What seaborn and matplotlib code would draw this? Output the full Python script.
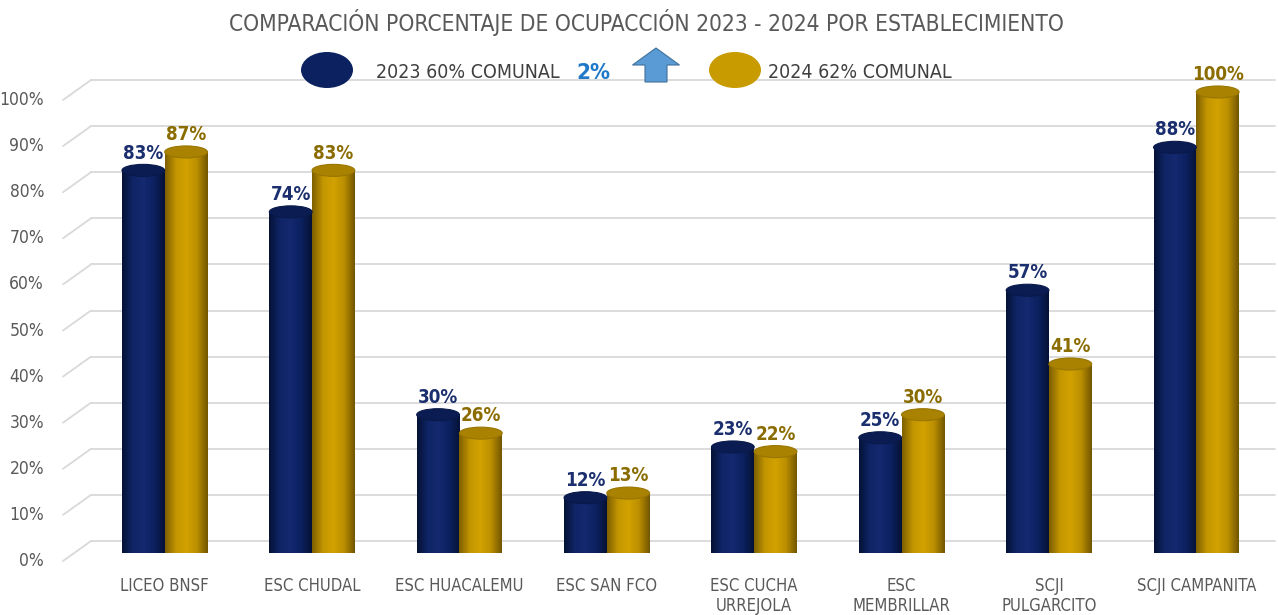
import numpy as np
import pandas as pd
import matplotlib
matplotlib.use("Agg")
import matplotlib.pyplot as plt
import seaborn as sns
from matplotlib.patches import Ellipse, FancyArrow
from matplotlib.colors import LinearSegmentedColormap, to_hex

# Data
establecimientos = ["LICEO BNSF", "ESC CHUDAL", "ESC HUACALEMU", "ESC SAN FCO",
                    "ESC CUCHA\nURREJOLA", "ESC\nMEMBRILLAR", "SCJI\nPULGARCITO",
                    "SCJI CAMPANITA"]
ocupacion_2023 = [83, 74, 30, 12, 23, 25, 57, 88]
ocupacion_2024 = [87, 83, 26, 13, 22, 30, 41, 100]
anios = ["2023", "2024"]
comunal = [60, 62]
variacion = "2%"
y_ticks = [0, 10, 20, 30, 40, 50, 60, 70, 80, 90, 100]

df = pd.DataFrame({
    "establecimiento": establecimientos * 2,
    "ocupacion": ocupacion_2023 + ocupacion_2024,
    "anio": [anios[0]] * len(establecimientos) + [anios[1]] * len(establecimientos),
})

NAVY = "#0c2260"
GOLD = "#c89b00"
NAVY_TXT = "#1b2f6e"
GOLD_TXT = "#8a6c00"
GRAY = "#595959"

cmaps = {
    to_hex(NAVY): LinearSegmentedColormap.from_list(
        "navy", ["#051236", "#0f2566", "#14296f", "#0c2160", "#051236"]),
    to_hex(GOLD): LinearSegmentedColormap.from_list(
        "gold", ["#7e5f00", "#c39600", "#d2a200", "#bb8f00", "#735600"]),
}
caps = {to_hex(NAVY): "#0a1c52", to_hex(GOLD): "#a88200"}
txt_colors = {to_hex(NAVY): NAVY_TXT, to_hex(GOLD): GOLD_TXT}

sns.set_style("white")
plt.rcParams["font.family"] = ["DejaVu Sans"]
plt.rcParams["font.stretch"] = "condensed"

W, H = 1278, 615
fig = plt.figure(figsize=(W / 100, H / 100), dpi=100)
ax = fig.add_axes([91 / W, 62 / H, (1270 - 91) / W, 461 * 1.1 / H])

sns.barplot(data=df, x="establecimiento", y="ocupacion", hue="anio",
            palette=[NAVY, GOLD], width=0.58, saturation=1, legend=False,
            ax=ax, zorder=3)
ax.set_xlim(-0.5, len(establecimientos) - 0.5)
ax.set_ylim(0, 110)
sns.despine(ax=ax, left=True, bottom=True)

px_x = 1 / 147.4   # data units per pixel (x)
px_y = 1 / 4.61    # data units per pixel (y)
cap_h = 12 * px_y

# 3D-ish gridlines with a diagonal on the left
for v in y_ticks:
    yb = v + 12 * px_y
    ax.plot([-0.5, len(establecimientos) - 0.5 + 5 * px_x], [yb, yb],
            color="#d9d9d9", lw=1.3, zorder=1, clip_on=False)
    ax.plot([-0.5, -0.5 - 28 * px_x], [yb, yb - 20 * px_y],
            color="#d9d9d9", lw=1.3, zorder=1, clip_on=False)
    ax.text(-0.5 - 47 * px_x, v - 8 * px_y, f"{v}%", ha="right", va="center",
            fontsize=12.5, color=GRAY)
ax.set_yticks([])
ax.set_ylabel("")
ax.set_xlabel("")

grad = np.linspace(0, 1, 64).reshape(1, -1)
for p in list(ax.patches):
    x0, w, h = p.get_x(), p.get_width(), p.get_height()
    key = to_hex(p.get_facecolor())
    cm = cmaps[key]
    p.set_visible(False)
    body = ax.imshow(grad, cmap=cm, aspect="auto", extent=[x0, x0 + w, 0, h],
                     zorder=3, interpolation="bicubic")
    body.set_clip_path(p)
    bottom = Ellipse((x0 + w / 2, 0), w, cap_h, transform=ax.transData)
    bot = ax.imshow(grad, cmap=cm, aspect="auto",
                    extent=[x0, x0 + w, -cap_h, cap_h], zorder=3,
                    interpolation="bicubic")
    bot.set_clip_path(bottom)
    ax.add_patch(Ellipse((x0 + w / 2, h), w, cap_h, facecolor=caps[key],
                         edgecolor=cm(0.1), lw=0.8, zorder=4))
    ax.text(x0 + w / 2, h + cap_h / 2 + 0.4, f"{h:.0f}%", ha="center",
            va="bottom", fontsize=13.5, fontweight="bold",
            color=txt_colors[key], zorder=5)

ax.set_xlim(-0.5, len(establecimientos) - 0.5)
ax.set_ylim(0, 110)
ax.tick_params(axis="x", length=0, pad=17, labelsize=12, labelcolor=GRAY)
for lbl in ax.get_xticklabels():
    lbl.set_linespacing(1.2)
    lbl.set_verticalalignment("top")

# Title
fig.text(646 / W, 1 - 22 / H,
         "COMPARACIÓN PORCENTAJE DE OCUPACCIÓN 2023 - 2024 POR ESTABLECIMIENTO",
         ha="center", va="center", fontsize=16.3, color=GRAY)

# Custom legend
fig.add_artist(Ellipse((327 / W, 1 - 70 / H), 52 / W, 36 / H,
                       transform=fig.transFigure, facecolor=NAVY, edgecolor="none"))
fig.add_artist(Ellipse((735 / W, 1 - 70 / H), 52 / W, 36 / H,
                       transform=fig.transFigure, facecolor=GOLD, edgecolor="none"))
fig.text(376 / W, 1 - 72 / H, f"{anios[0]} {comunal[0]}% COMUNAL", ha="left",
         va="center", fontsize=14, color="#404040")
fig.text(768 / W, 1 - 72 / H, f"{anios[1]} {comunal[1]}% COMUNAL", ha="left",
         va="center", fontsize=14, color="#404040")
fig.text(593 / W, 1 - 73 / H, variacion, ha="center", va="center",
         fontsize=16, fontweight="bold", color="#1f78c8")
fig.add_artist(FancyArrow(6.56, (H - 82) / 100, 0, 0.34, width=0.22,
                          head_width=0.47, head_length=0.17,
                          length_includes_head=True,
                          transform=fig.dpi_scale_trans,
                          facecolor="#5b9bd5", edgecolor="#41719c", lw=0.8))

fig.savefig("out.png", dpi=100, facecolor="white")
